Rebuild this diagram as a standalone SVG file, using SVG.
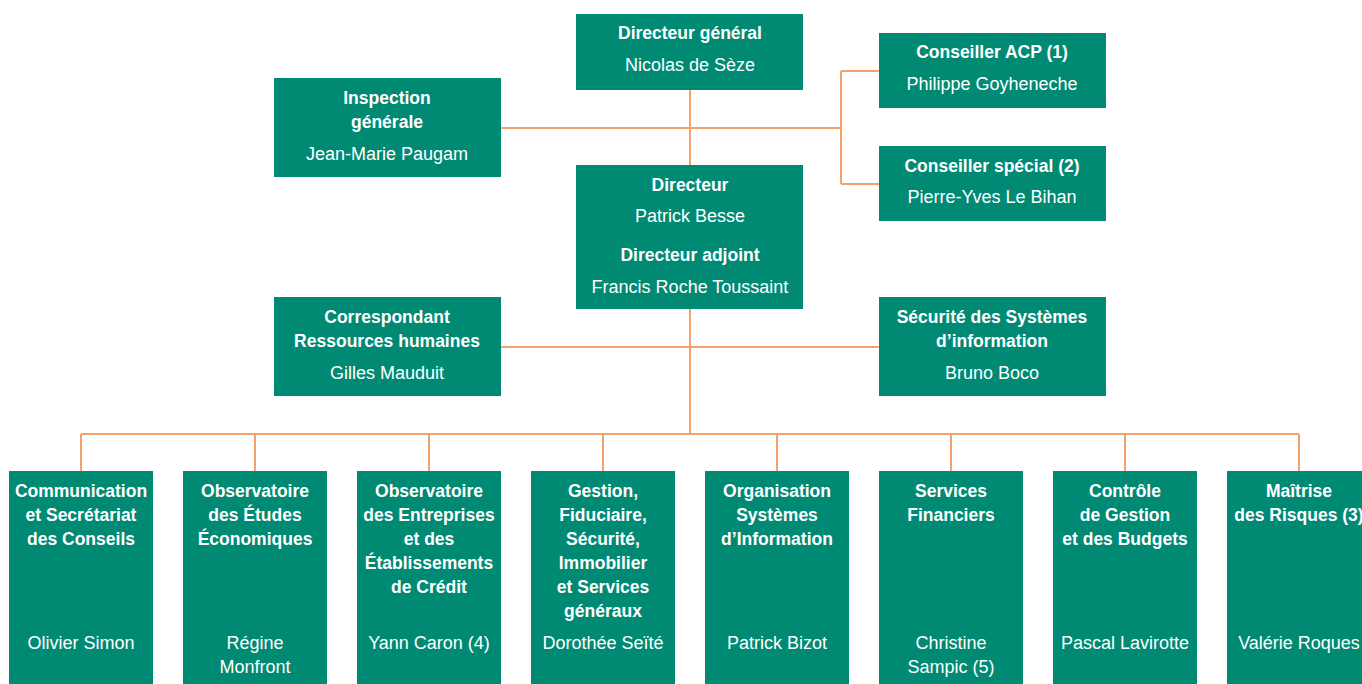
<svg xmlns="http://www.w3.org/2000/svg" width="1362" height="684" viewBox="0 0 1362 684">
<style>
.box{fill:#008a74}
.t{font-family:"Liberation Sans",Arial,sans-serif;fill:#ffffff;text-anchor:middle}
.b{font-weight:bold;font-size:17.5px}
.r{font-size:18px}
.ln{stroke:#f5a26a;stroke-width:2;fill:none}
</style>
<rect width="1362" height="684" fill="#ffffff"/>
<g id="connectors">
<path class="ln" d="M690 90V165M690 309V434M81 434H1299M81 434V471M255 434V471M429 434V471M603 434V471M777 434V471M951 434V471M1125 434V471M1299 434V471M501 128H841M841 71V184M841 71H879M841 184H879M501 347H879"/>
</g>
<g id="dg"><rect class="box" x="576" y="14" width="227" height="76"/>
<text class="t b" x="690" y="39">Directeur général</text>
<text class="t r" x="690" y="71">Nicolas de Sèze</text></g>
<g id="inspection"><rect class="box" x="274" y="78" width="227" height="99"/>
<text class="t b" x="387" y="104">Inspection</text>
<text class="t b" x="387" y="128">générale</text>
<text class="t r" x="387" y="160">Jean-Marie Paugam</text></g>
<g id="acp"><rect class="box" x="879" y="33" width="227" height="75"/>
<text class="t b" x="992" y="58">Conseiller ACP (1)</text>
<text class="t r" x="992" y="90">Philippe Goyheneche</text></g>
<g id="special"><rect class="box" x="879" y="146" width="227" height="75"/>
<text class="t b" x="992" y="172">Conseiller spécial (2)</text>
<text class="t r" x="992" y="203">Pierre-Yves Le Bihan</text></g>
<g id="directeur"><rect class="box" x="576" y="165" width="227" height="144"/>
<text class="t b" x="690" y="191">Directeur</text>
<text class="t r" x="690" y="222">Patrick Besse</text>
<text class="t b" x="690" y="261">Directeur adjoint</text>
<text class="t r" x="690" y="293">Francis Roche Toussaint</text></g>
<g id="rh"><rect class="box" x="274" y="297" width="227" height="99"/>
<text class="t b" x="387" y="323">Correspondant</text>
<text class="t b" x="387" y="347">Ressources humaines</text>
<text class="t r" x="387" y="379">Gilles Mauduit</text></g>
<g id="ssi"><rect class="box" x="879" y="297" width="227" height="99"/>
<text class="t b" x="992" y="323">Sécurité des Systèmes</text>
<text class="t b" x="992" y="347">d’information</text>
<text class="t r" x="992" y="379">Bruno Boco</text></g>
<g id="communication"><rect class="box" x="9" y="471" width="144" height="213"/>
<text class="t b" x="81" y="497">Communication</text>
<text class="t b" x="81" y="521">et Secrétariat</text>
<text class="t b" x="81" y="545">des Conseils</text>
<text class="t r" x="81" y="649">Olivier Simon</text></g>
<g id="etudes"><rect class="box" x="183" y="471" width="144" height="213"/>
<text class="t b" x="255" y="497">Observatoire</text>
<text class="t b" x="255" y="521">des Études</text>
<text class="t b" x="255" y="545">Économiques</text>
<text class="t r" x="255" y="649">Régine</text>
<text class="t r" x="255" y="673">Monfront</text></g>
<g id="entreprises"><rect class="box" x="357" y="471" width="144" height="213"/>
<text class="t b" x="429" y="497">Observatoire</text>
<text class="t b" x="429" y="521">des Entreprises</text>
<text class="t b" x="429" y="545">et des</text>
<text class="t b" x="429" y="569">Établissements</text>
<text class="t b" x="429" y="593">de Crédit</text>
<text class="t r" x="429" y="649">Yann Caron (4)</text></g>
<g id="gestion"><rect class="box" x="531" y="471" width="144" height="213"/>
<text class="t b" x="603" y="497">Gestion,</text>
<text class="t b" x="603" y="521">Fiduciaire,</text>
<text class="t b" x="603" y="545">Sécurité,</text>
<text class="t b" x="603" y="569">Immobilier</text>
<text class="t b" x="603" y="593">et Services</text>
<text class="t b" x="603" y="617">généraux</text>
<text class="t r" x="603" y="649">Dorothée Seïté</text></g>
<g id="osi"><rect class="box" x="705" y="471" width="144" height="213"/>
<text class="t b" x="777" y="497">Organisation</text>
<text class="t b" x="777" y="521">Systèmes</text>
<text class="t b" x="777" y="545">d’Information</text>
<text class="t r" x="777" y="649">Patrick Bizot</text></g>
<g id="financiers"><rect class="box" x="879" y="471" width="144" height="213"/>
<text class="t b" x="951" y="497">Services</text>
<text class="t b" x="951" y="521">Financiers</text>
<text class="t r" x="951" y="649">Christine</text>
<text class="t r" x="951" y="673">Sampic (5)</text></g>
<g id="controle"><rect class="box" x="1053" y="471" width="144" height="213"/>
<text class="t b" x="1125" y="497">Contrôle</text>
<text class="t b" x="1125" y="521">de Gestion</text>
<text class="t b" x="1125" y="545">et des Budgets</text>
<text class="t r" x="1125" y="649">Pascal Lavirotte</text></g>
<g id="risques"><rect class="box" x="1227" y="471" width="144" height="213"/>
<text class="t b" x="1299" y="497">Maîtrise</text>
<text class="t b" x="1299" y="521">des Risques (3)</text>
<text class="t r" x="1299" y="649">Valérie Roques</text></g>
</svg>
